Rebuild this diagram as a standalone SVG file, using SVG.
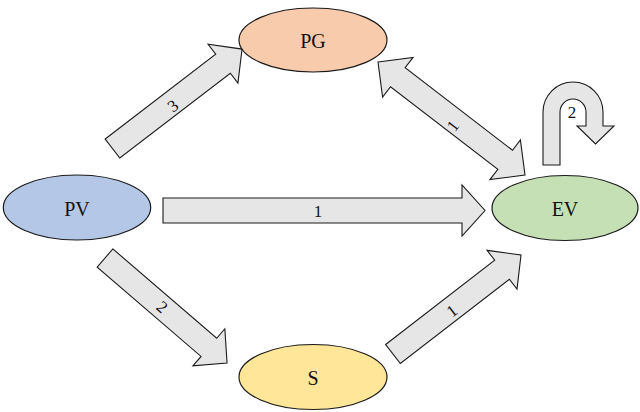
<svg xmlns="http://www.w3.org/2000/svg" width="640" height="412" viewBox="0 0 640 412">
<style>
.node{stroke:#1a1a1a;stroke-width:1.2}
.arr{fill:#e6e6e6;stroke:#1a1a1a;stroke-width:1.1;stroke-linejoin:miter}
.nt{font-family:"Liberation Serif",serif;font-size:20px;fill:#111;text-anchor:middle;dominant-baseline:central}
.lt{font-family:"Liberation Serif",serif;font-size:17px;fill:#111;text-anchor:middle;dominant-baseline:central}
</style>
<rect width="640" height="412" fill="#fff"/>
<g id="connectors">
  <g id="e-pv-pg" transform="translate(112.5,148.5) rotate(-37.5)">
    <path class="arr" d="M0,-12 H139.3 V-24.5 L163.3,0 L139.3,24.5 V12 H0 Z"/>
  </g>
  <text class="lt" transform="translate(173,106) rotate(-37.5)">3</text>
  <g id="e-pg-ev" transform="translate(378,62) rotate(37.55)">
    <path class="arr" d="M0,0 L25,-25 V-12 H160.4 V-25 L185.4,0 L160.4,25 V12 H25 V25 Z"/>
  </g>
  <text class="lt" transform="translate(453,126) rotate(-52.5)">1</text>
  <g id="e-pv-ev">
    <path class="arr" d="M163,198 H462 V185 L485,210.5 L462,236 V223 H163 Z"/>
  </g>
  <text class="lt" x="318" y="211">1</text>
  <g id="e-pv-s" transform="translate(105,258) rotate(40.7)">
    <path class="arr" d="M0,-12 H137 V-24.5 L161,0 L137,24.5 V12 H0 Z"/>
  </g>
  <text class="lt" transform="translate(162,307) rotate(40.7)">2</text>
  <g id="e-s-ev" transform="translate(393,354) rotate(-37.7)">
    <path class="arr" d="M0,-12 H137.8 V-24.5 L161.8,0 L137.8,24.5 V12 H0 Z"/>
  </g>
  <text class="lt" transform="translate(452,311) rotate(-37.7)">1</text>
  <g id="e-ev-ev">
    <path class="arr" d="M543,165 V112 A30,30 0 0 1 603,112 V126 H614 L595.5,144 L577,126 H586 V112 A13,13 0 0 0 560,112 V165 Z"/>
  </g>
  <text class="lt" x="572" y="112">2</text>
</g>
<g id="PG">
  <ellipse class="node" cx="313" cy="40" rx="74" ry="32" fill="#f8cbad"/>
  <text class="nt" x="313" y="41">PG</text>
</g>
<g id="PV">
  <ellipse class="node" cx="77" cy="207.5" rx="73.7" ry="32.5" fill="#b4c7e7"/>
  <text class="nt" x="77" y="209">PV</text>
</g>
<g id="EV">
  <ellipse class="node" cx="565" cy="208" rx="73" ry="32.5" fill="#c5e0b4"/>
  <text class="nt" x="565" y="209">EV</text>
</g>
<g id="S">
  <ellipse class="node" cx="313" cy="377" rx="74" ry="32.5" fill="#ffe699"/>
  <text class="nt" x="313" y="378">S</text>
</g>
</svg>
